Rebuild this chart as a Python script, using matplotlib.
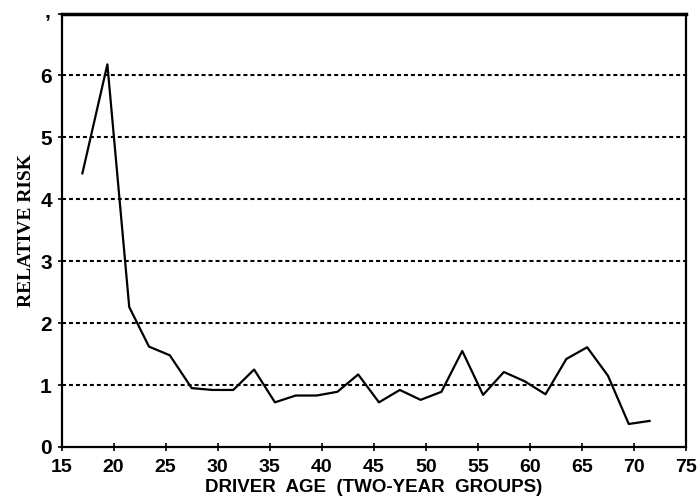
import matplotlib
matplotlib.use("Agg")
import matplotlib.pyplot as plt

ages = [17, 19.4, 21.5, 23.4, 25.4, 27.5, 29.5, 31.5, 33.5, 35.5, 37.5, 39.5, 41.5, 43.5,
        45.5, 47.5, 49.5, 51.5, 53.5, 55.5, 57.5, 59.5, 61.5, 63.5, 65.5, 67.5, 69.5, 71.5]
risk = [4.42, 6.18, 2.26, 1.62, 1.48, 0.95, 0.92, 0.92, 1.25, 0.72, 0.83, 0.83, 0.89, 1.17,
        0.72, 0.92, 0.76, 0.89, 1.55, 0.84, 1.21, 1.06, 0.85, 1.42, 1.61, 1.15, 0.37, 0.42]
xticks = [15, 20, 25, 30, 35, 40, 45, 50, 55, 60, 65, 70, 75]
yticks = [0, 1, 2, 3, 4, 5, 6, 7]
ytick_labels = ["0", "1", "2", "3", "4", "5", "6", ""]
top_mark = "\u2019"
xlabel = "DRIVER  AGE  (TWO-YEAR  GROUPS)"
ylabel = "RELATIVE RISK"

sans = ["Liberation Sans", "DejaVu Sans"]

fig = plt.figure(figsize=(6.99, 4.98), dpi=100)
ax = fig.add_axes([0.0881, 0.1026, 0.8933, 0.8701])

for g in range(1, 7):
    ax.axhline(g, color="black", lw=1.5, linestyle=(0, (1.9, 1.45)), zorder=1)

ax.plot(ages, risk, color="black", lw=1.6, zorder=3)

ax.set_xlim(15, 75)
ax.set_ylim(0, 7)
ax.set_xticks(xticks)
ax.set_yticks(yticks)
ax.set_xticklabels([str(t) for t in xticks], fontfamily=sans, fontweight="bold", fontsize=14)
ax.set_yticklabels(ytick_labels, fontfamily=sans, fontweight="bold", fontsize=15)
ax.tick_params(axis="both", direction="inout", length=6, width=1.2, color="black")
ax.tick_params(axis="x", pad=6)
ax.tick_params(axis="y", pad=4)

ax.annotate(top_mark, xy=(0, 7), xycoords=("axes fraction", "data"),
            xytext=(-14, -9), textcoords="offset pixels", ha="center", va="center",
            fontfamily=sans, fontweight="bold", fontsize=15, annotation_clip=False)

for s in ax.spines.values():
    s.set_linewidth(1.6)
ax.spines["top"].set_linewidth(2.5)

ax.set_xlabel(xlabel, fontfamily=sans, fontweight="bold", fontsize=13.5, labelpad=2)
ax.set_ylabel(ylabel, fontfamily=["Liberation Serif", "DejaVu Serif"], fontweight="bold", fontsize=14, labelpad=4)

fig.savefig("out.png", dpi=100)
